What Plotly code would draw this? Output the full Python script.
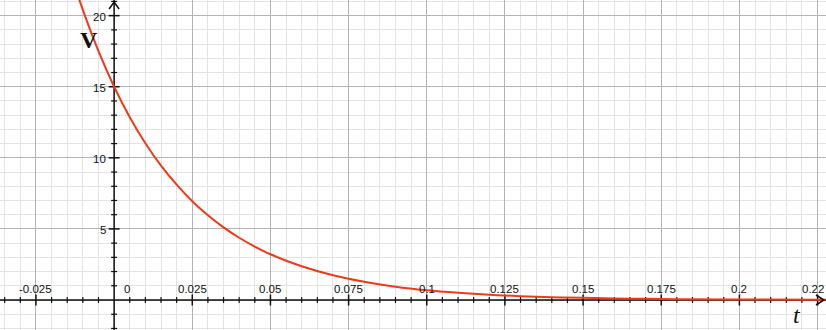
import plotly.graph_objects as go

# Values
t_vals = [-0.012, -0.010, -0.005, 0.0, 0.005, 0.010, 0.015, 0.020, 0.025, 0.030,
          0.035, 0.040, 0.045, 0.050, 0.060, 0.070, 0.080, 0.090, 0.100, 0.110,
          0.120, 0.130, 0.140, 0.150, 0.165, 0.180, 0.200, 0.230]
v_vals = [21.7, 20.4, 17.5, 15.0, 12.86, 11.03, 9.45, 8.11, 6.95, 5.96,
          5.11, 4.38, 3.76, 3.22, 2.37, 1.74, 1.28, 0.94, 0.69, 0.51,
          0.37, 0.27, 0.20, 0.15, 0.094, 0.059, 0.032, 0.013]

x_tick_labels = ["-0.025", "0", "0.025", "0.05", "0.075", "0.1", "0.125",
                 "0.15", "0.175", "0.2", "0.22"]
x_tick_vals = [-0.025, 0.0, 0.025, 0.05, 0.075, 0.1, 0.125, 0.15, 0.175, 0.2, 0.225]
y_tick_labels = ["5", "10", "15", "20"]
y_tick_vals = [5, 10, 15, 20]
x_minor_vals = [round(-0.035 + 0.005 * i, 3) for i in range(54)]
y_minor_vals = list(range(-2, 22))

X_RANGE = [-0.0365, 0.2277]
Y_RANGE = [-2.11, 21.1]

fig = go.Figure()
fig.add_trace(go.Scatter(x=t_vals, y=v_vals, mode="lines", line_shape="spline",
                         line=dict(color="#ee3a1c", width=2), hoverinfo="skip",
                         showlegend=False))

shapes = []
axis_col = "#111111"
# axes lines
shapes.append(dict(type="line", xref="x", yref="y", x0=X_RANGE[0], x1=X_RANGE[1], y0=0, y1=0,
                   line=dict(color=axis_col, width=1.5), layer="between"))
shapes.append(dict(type="line", xref="x", yref="y", x0=0, x1=0, y0=Y_RANGE[0], y1=Y_RANGE[1],
                   line=dict(color=axis_col, width=1.5), layer="between"))
# x ticks
for xv in x_minor_vals:
    if abs(xv) < 1e-9:
        continue
    major = abs(round(xv / 0.025) * 0.025 - xv) < 1e-9
    h = 5.5 if major else 3
    shapes.append(dict(type="line", xref="x", yref="y", ysizemode="pixel", yanchor=0,
                       x0=xv, x1=xv, y0=-h, y1=h,
                       line=dict(color=axis_col, width=1.5 if major else 1.2), layer="between"))
# y ticks
for yv in y_minor_vals:
    if yv == 0:
        continue
    major = yv % 5 == 0
    h = 5.5 if major else 3
    shapes.append(dict(type="line", xref="x", yref="y", xsizemode="pixel", xanchor=0,
                       x0=-h, x1=h, y0=yv, y1=yv,
                       line=dict(color=axis_col, width=1.5 if major else 1.2), layer="between"))
# arrowheads
shapes.append(dict(type="path", xref="x", yref="y", xsizemode="pixel", xanchor=0,
                   ysizemode="pixel", yanchor=Y_RANGE[1],
                   path="M -5 -9 L 0 -2 L 5 -9", line=dict(color=axis_col, width=1.5),
                   layer="above"))
shapes.append(dict(type="path", xref="x", yref="y", xsizemode="pixel", xanchor=X_RANGE[1],
                   ysizemode="pixel", yanchor=0,
                   path="M -10 5 L -2 0 L -10 -5", line=dict(color=axis_col, width=1.5),
                   layer="above"))

annotations = []
lab_font = dict(family="Liberation Sans, Arial, sans-serif", size=11.5, color="#111111")
for lab, xv in zip(x_tick_labels, x_tick_vals):
    if lab == "0":
        xa, xs = "left", 8
    elif lab == "0.22":
        xa, xs = "right", 8
    else:
        xa, xs = "center", 0
    annotations.append(dict(x=xv, y=0, xref="x", yref="y", text=lab, showarrow=False,
                            xanchor=xa, xshift=xs,
                            yanchor="middle", yshift=11, font=lab_font))
for lab, yv in zip(y_tick_labels, y_tick_vals):
    annotations.append(dict(x=0, y=yv, xref="x", yref="y", text=lab, showarrow=False,
                            xanchor="right", xshift=-6, yanchor="middle", yshift=-1,
                            font=lab_font))
annotations.append(dict(x=0, y=Y_RANGE[1], xref="x", yref="y", text="<b>V</b>", showarrow=False,
                        xanchor="center", yanchor="middle", xshift=-25, yshift=-40,
                        font=dict(family="Liberation Serif, Times New Roman, serif", size=24,
                                  color="#111111")))
annotations.append(dict(x=X_RANGE[1], y=0, xref="x", yref="y", text="<i>t</i>",
                        showarrow=False, xanchor="center", yanchor="middle", xshift=-29,
                        yshift=-15,
                        font=dict(family="Liberation Serif, Times New Roman, serif", size=24,
                                  color="#111111")))

fig.update_layout(
    width=826, height=330, margin=dict(l=0, r=0, t=0, b=0),
    paper_bgcolor="white", plot_bgcolor="white",
    shapes=shapes, annotations=annotations,
    xaxis=dict(range=X_RANGE, tick0=0, dtick=0.025, showgrid=True, gridcolor="#b4b4b4",
               gridwidth=1, showticklabels=False, zeroline=False, ticks="",
               minor=dict(tick0=0, dtick=0.005, showgrid=True, gridcolor="#e3e3e3", gridwidth=1)),
    yaxis=dict(range=Y_RANGE, tick0=0, dtick=5, showgrid=True, gridcolor="#b4b4b4",
               gridwidth=1, showticklabels=False, zeroline=False, ticks="",
               minor=dict(tick0=0, dtick=1, showgrid=True, gridcolor="#e3e3e3", gridwidth=1)),
)
fig.write_html("out.html")
